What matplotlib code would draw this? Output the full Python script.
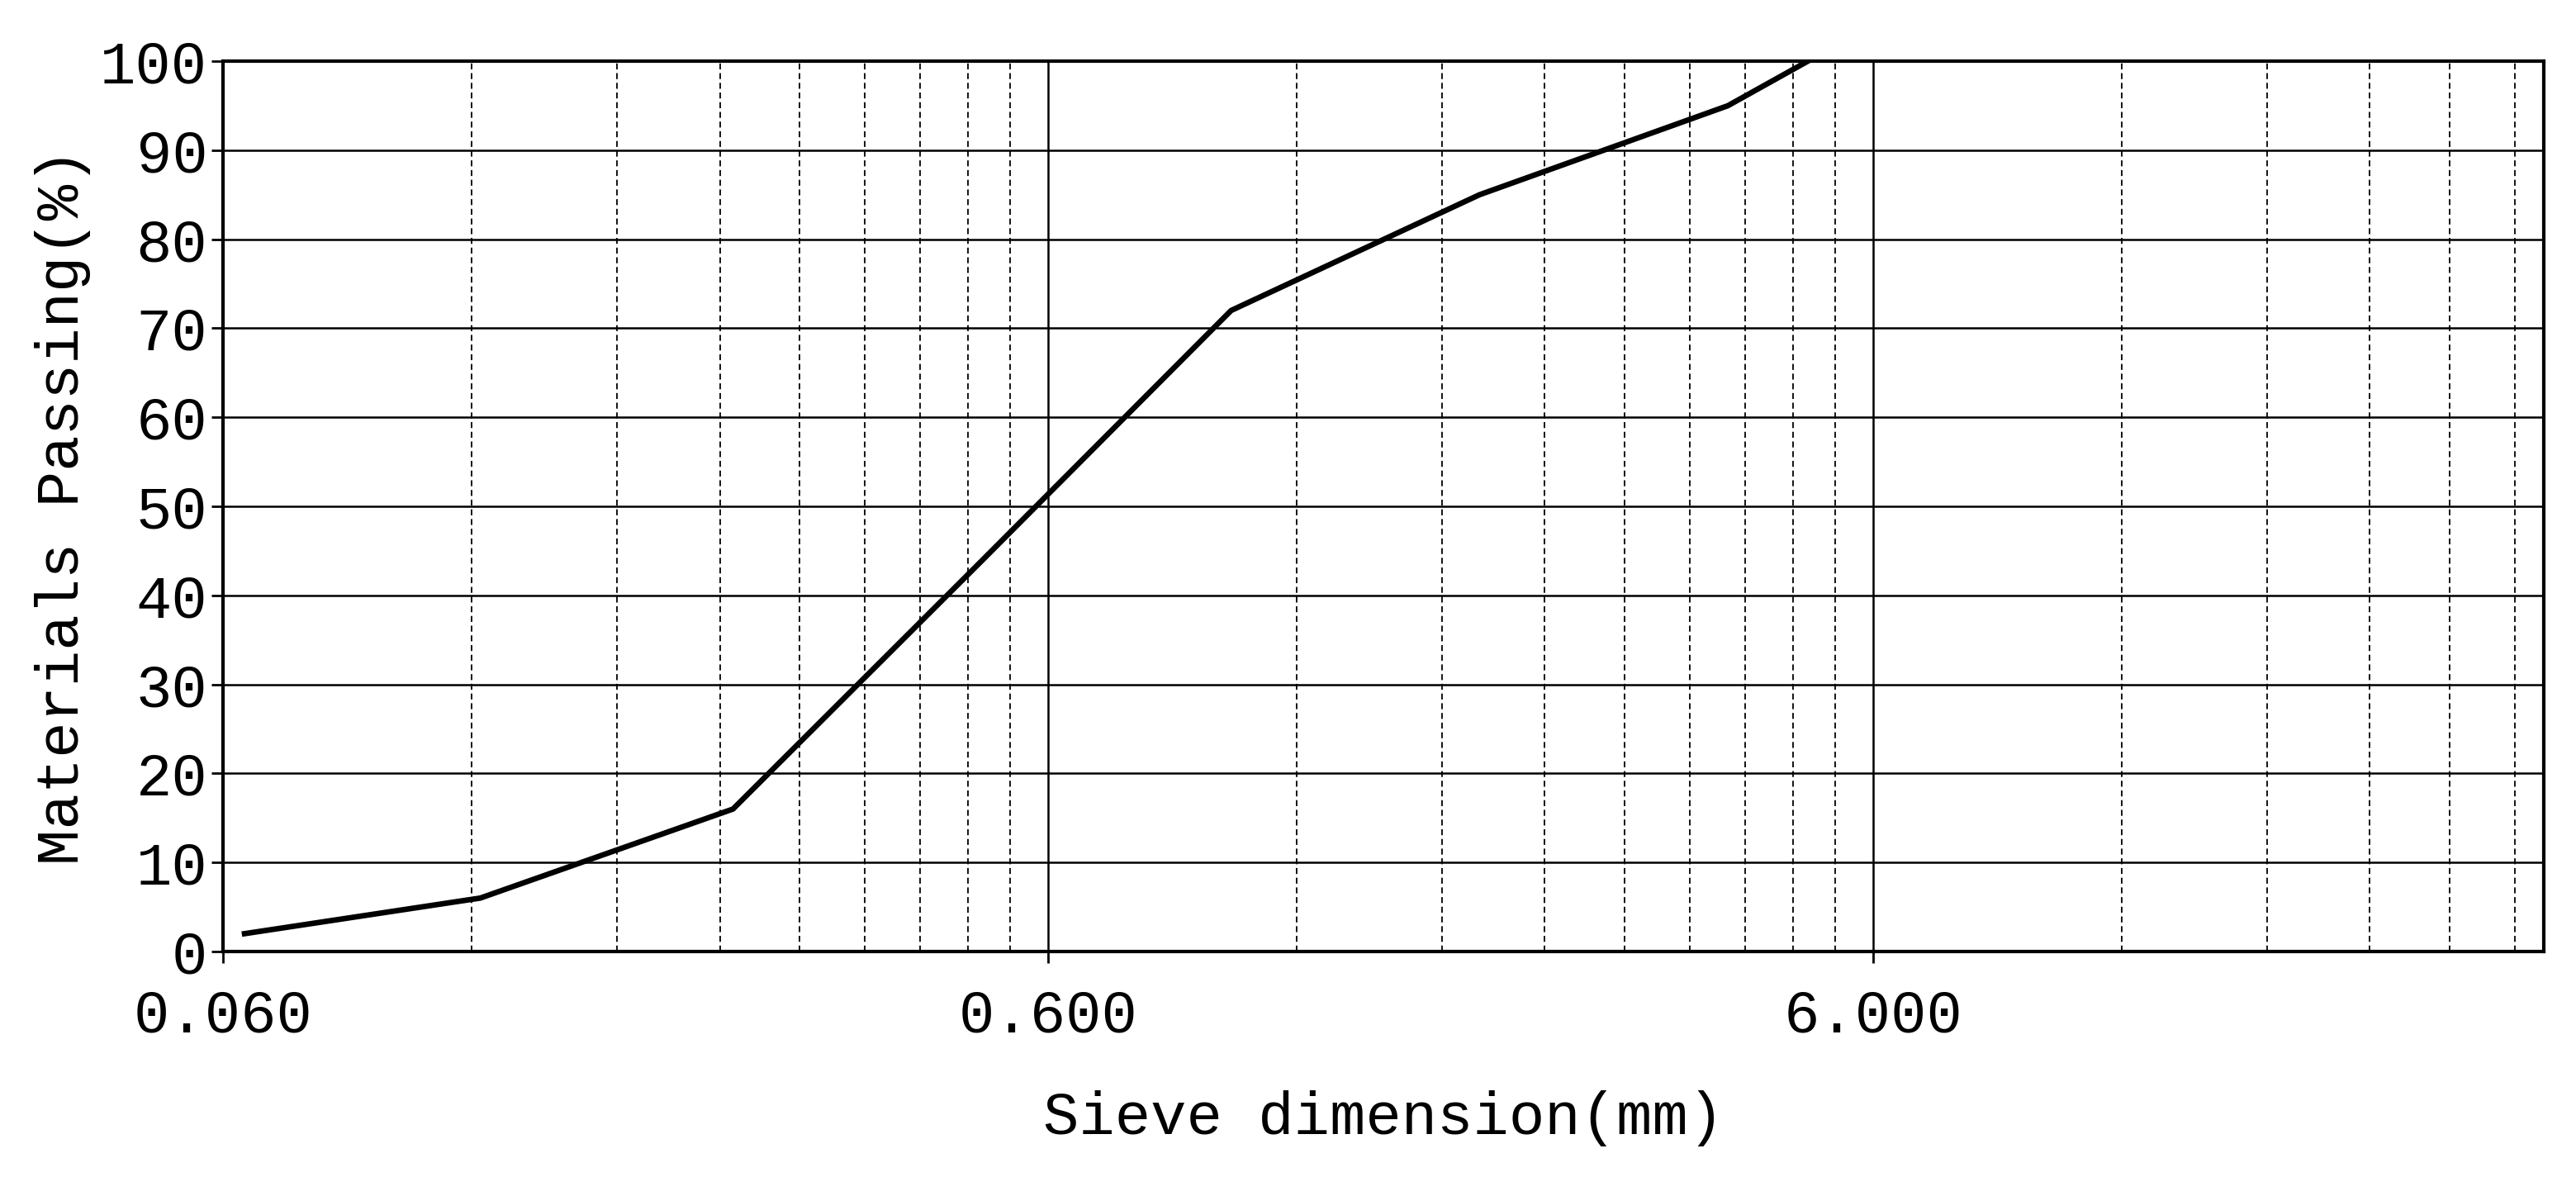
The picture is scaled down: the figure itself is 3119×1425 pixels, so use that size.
import numpy as np
import matplotlib.pyplot as plt
from matplotlib.ticker import FixedLocator, FixedFormatter, NullFormatter

# sieve sizes (mm) and percent passing
sieve_mm = [0.0637, 0.123, 0.249, 0.5, 1.0, 2.0, 4.0, 5.0]
passing = [2, 6, 16, 44, 72, 85, 95, 100]

x_major = [0.06, 0.6, 6.0]
x_major_labels = ["0.060", "0.600", "6.000"]
y_ticks = list(range(0, 101, 10))

plt.rcParams['font.family'] = ['Liberation Mono', 'DejaVu Sans Mono']

fig = plt.figure(figsize=(31.19, 14.25), dpi=100)
ax = fig.add_axes([0.0866, 0.1916, 0.9009, 0.7564])

ax.plot(sieve_mm, passing, color='black', lw=4.8, zorder=3)

ax.set_xscale('log')
ax.set_xlim(0.06, 39.0)
ax.set_ylim(0, 100)

minors = [d * k for d in (0.06, 0.6, 6.0) for k in range(2, 10)]
minors = [m for m in minors if m < 39.0]
ax.xaxis.set_major_locator(FixedLocator(x_major))
ax.xaxis.set_major_formatter(FixedFormatter(x_major_labels))
ax.xaxis.set_minor_locator(FixedLocator(minors))
ax.xaxis.set_minor_formatter(NullFormatter())
ax.set_yticks(y_ticks)

ax.grid(which='major', axis='both', color='black', lw=1.8, ls='-')
ax.grid(which='minor', axis='x', color='black', lw=1.3, ls=(0, (4, 2.5)))

for s in ax.spines.values():
    s.set_linewidth(3)

ax.tick_params(axis='both', which='major', labelsize=52, length=10, width=2, direction='out')
ax.tick_params(axis='x', which='minor', length=0)
ax.tick_params(axis='x', pad=22)

ax.set_xlabel('Sieve dimension(mm)', fontsize=52, labelpad=40)
ax.set_ylabel('Materials Passing(%)', fontsize=52, labelpad=8)

fig.savefig('out.png', dpi=100)
